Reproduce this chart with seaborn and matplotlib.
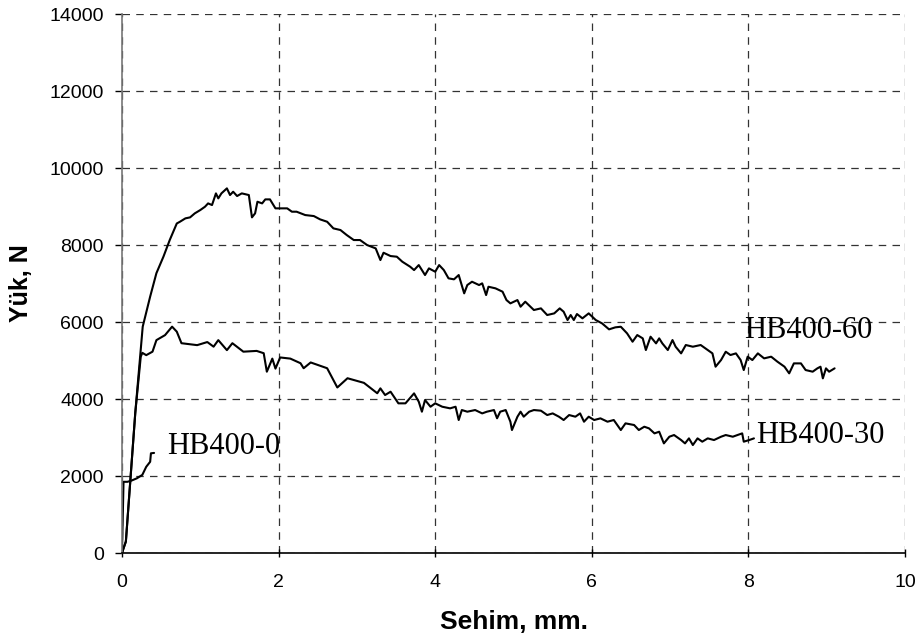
# load-deflection curves, HB400 specimens
import matplotlib
matplotlib.use("Agg")
import matplotlib.pyplot as plt
import seaborn as sns
import pandas as pd

hb60_x = [0, 0.05, 0.17, 0.265, 0.36, 0.44, 0.53, 0.61, 0.70,
          0.74, 0.81, 0.87, 0.93, 1.00, 1.06, 1.10, 1.15, 1.20, 1.23, 1.27, 1.34, 1.38, 1.42, 1.47,
          1.53, 1.62, 1.66, 1.70, 1.73, 1.79, 1.83, 1.89, 1.96, 2.02, 2.11, 2.17, 2.23, 2.34, 2.45,
          2.53, 2.62, 2.70, 2.79, 2.87, 2.96, 3.04, 3.13, 3.24, 3.30, 3.34, 3.43, 3.51, 3.58, 3.68,
          3.73, 3.79, 3.87, 3.92, 4.00, 4.05, 4.11, 4.17, 4.24, 4.30, 4.37, 4.41, 4.47, 4.56, 4.60,
          4.65, 4.68, 4.77, 4.86, 4.91, 4.96, 5.05, 5.09, 5.15, 5.26, 5.35, 5.43, 5.52, 5.59, 5.64,
          5.69, 5.73, 5.77, 5.81, 5.88, 5.96, 6.05, 6.13, 6.22, 6.30,
          6.37, 6.45, 6.52, 6.58, 6.65, 6.69, 6.75, 6.82, 6.86, 6.90, 6.97, 7.03, 7.07, 7.14, 7.20,
          7.29, 7.39, 7.48, 7.54, 7.58, 7.65, 7.71, 7.77, 7.84, 7.90, 7.94, 7.99, 8.05, 8.12, 8.20,
          8.29, 8.37, 8.46, 8.52, 8.58, 8.67, 8.73, 8.82, 8.88, 8.92, 8.95, 8.99, 9.03, 9.10]
hb60_y = [0, 300, 3640, 5880, 6660, 7270, 7700, 8130, 8560,
          8605, 8693, 8719, 8823, 8909, 8995, 9082, 9039, 9342, 9212, 9342, 9472, 9299, 9385, 9273,
          9342, 9299, 8719, 8823, 9125, 9082, 9186, 9186, 8953, 8953, 8953, 8866, 8866, 8779, 8753,
          8667, 8605, 8433, 8390, 8260, 8130, 8130, 8000, 7913, 7610, 7800, 7714, 7697, 7567, 7437,
          7350, 7480, 7221, 7394, 7307, 7480, 7350, 7135, 7109, 7221, 6745, 6961, 7047, 6961, 7005,
          6701, 6917, 6875, 6788, 6571, 6485, 6571, 6398, 6528, 6312, 6355, 6182, 6225, 6355, 6268,
          6052, 6182, 6052, 6208, 6096, 6225, 6052, 5966, 5810, 5862,
          5878, 5706, 5489, 5662, 5576, 5273, 5619, 5446, 5576, 5446, 5273, 5532, 5359, 5186, 5403,
          5359, 5403, 5273, 5186, 4840, 5013, 5229, 5143, 5186, 5013, 4753, 5100, 5013, 5186, 5056,
          5100, 4970, 4840, 4667, 4926, 4926, 4753, 4710, 4797, 4840, 4537, 4797, 4710, 4797]

hb30_x = [0, 0.05, 0.17, 0.24, 0.26, 0.31, 0.39, 0.44, 0.55, 0.64, 0.70, 0.76, 0.96, 1.09, 1.17,
          1.23, 1.34, 1.41, 1.55, 1.72, 1.81, 1.85, 1.92, 1.96, 2.02, 2.15, 2.28, 2.32, 2.41, 2.62,
          2.75, 2.88, 3.09, 3.26,
          3.30, 3.36, 3.43, 3.53, 3.62, 3.73, 3.79, 3.83, 3.87, 3.94, 4.00, 4.09, 4.19, 4.26, 4.30,
          4.34, 4.41, 4.51, 4.60, 4.66, 4.75, 4.79, 4.83, 4.90, 4.96, 4.98, 5.05, 5.09, 5.13, 5.20,
          5.26, 5.35, 5.43, 5.50, 5.58, 5.64, 5.71, 5.79, 5.85, 5.90, 5.96, 6.03, 6.11, 6.20, 6.28,
          6.37, 6.43, 6.54, 6.60, 6.67, 6.73, 6.80, 6.86, 6.92, 6.99, 7.05, 7.14, 7.19, 7.24, 7.29,
          7.35, 7.41, 7.48, 7.56, 7.65, 7.71, 7.80, 7.86, 7.92, 7.94, 8.01, 8.07]
hb30_y = [0, 300, 3640, 5100, 5200, 5140, 5230, 5530, 5660, 5880, 5750, 5450, 5400, 5480, 5360,
          5530, 5270, 5450, 5230, 5250, 5190, 4710, 5050, 4790, 5080, 5050, 4930, 4800, 4950, 4800,
          4300, 4540, 4420, 4150,
          4277, 4104, 4190, 3888, 3888, 4147, 3930, 3671, 3974, 3800, 3888, 3800, 3758, 3800, 3455,
          3714, 3671, 3714, 3627, 3671, 3714, 3500, 3671, 3714, 3411, 3195, 3541, 3671, 3541, 3671,
          3714, 3697, 3584, 3627, 3541, 3455, 3584, 3541, 3627, 3411, 3541, 3455, 3498, 3411, 3455,
          3195, 3368, 3325, 3195, 3281, 3238, 3108, 3151, 2848, 3021, 3065, 2935, 2848, 2978, 2805,
          2978, 2892, 2978, 2935, 3021, 3065, 3021, 3065, 3108, 2892, 2935, 2978]

hb0_x = [0, 0.02, 0.07, 0.12, 0.19, 0.26, 0.31, 0.36, 0.37, 0.41]
hb0_y = [0, 1850, 1850, 1880, 1940, 2030, 2240, 2370, 2590, 2600]

labels = ["HB400-60", "HB400-30", "HB400-0"]
label_pos = [(7.95, 5790), (8.10, 3065), (0.58, 2760)]

x_ticks = [0, 2, 4, 6, 8, 10]
y_ticks = [0, 2000, 4000, 6000, 8000, 10000, 12000, 14000]

frames = []
for name, xs, ys in zip(labels, [hb60_x, hb30_x, hb0_x], [hb60_y, hb30_y, hb0_y]):
    frames.append(pd.DataFrame({"sehim": xs, "yuk": ys, "numune": name}))
df = pd.concat(frames, ignore_index=True)

sns.set_theme(style="whitegrid")
plt.rcParams["font.family"] = ["Liberation Sans", "DejaVu Sans"]
plt.rcParams["text.color"] = "black"
plt.rcParams["axes.labelcolor"] = "black"
plt.rcParams["xtick.color"] = "black"
plt.rcParams["ytick.color"] = "black"

fig = plt.figure(figsize=(9.17, 6.42), dpi=100)
ax = fig.add_axes([0.133, 0.1386, 0.854, 0.8395])

sns.lineplot(data=df, x="sehim", y="yuk", hue="numune", units="numune", estimator=None,
             sort=False, palette=["black"] * 3, linewidth=1.5, legend=False, ax=ax)

for name, (tx, ty) in zip(labels, label_pos):
    ax.text(tx, ty, name, fontsize=22, family="Liberation Serif", va="center", ha="left", color="black")

ax.set_xlim(0, 10)
ax.set_ylim(0, 14000)
ax.set_xticks(x_ticks)
ax.set_yticks(y_ticks)
ax.set_facecolor("white")
ax.grid(True, color="#333333", linestyle=(0, (6, 5)), linewidth=0.9)
ax.set_axisbelow(True)

for s in ["top", "right"]:
    ax.spines[s].set_visible(False)
ax.spines["left"].set_color("#777777")
ax.spines["left"].set_linewidth(1.2)
ax.spines["bottom"].set_color("black")
ax.spines["bottom"].set_linewidth(1.2)

ax.tick_params(axis="y", direction="out", length=5, width=1, labelsize=14, pad=8, left=True)
ax.tick_params(axis="x", direction="inout", length=6, width=1, labelsize=14, pad=12, bottom=True)

ax.set_xlabel("Sehim, mm.", fontsize=19, fontweight="bold", labelpad=14)
ax.set_ylabel("Yük, N", fontsize=18, fontweight="bold", labelpad=12)

fig.savefig("out.png", dpi=100)
